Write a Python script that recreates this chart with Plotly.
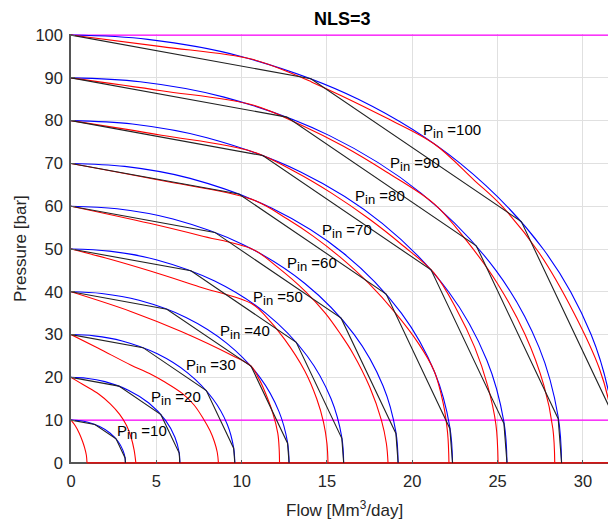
import plotly.graph_objects as go

# ---------------- data ----------------
p_in = [10, 20, 30, 40, 50, 60, 70, 80, 90, 100]

# blue curves: flow [Mm3/day] and pressure [bar]
blue_flow = [
    [0, 0.45, 1.0, 1.68, 2.28, 2.76, 3.04, 3.17, 3.19],
    [0, 0.9, 1.99, 3.36, 4.56, 5.53, 6.09, 6.34, 6.38],
    [0, 1.35, 3.0, 5.06, 6.85, 8.31, 9.16, 9.53, 9.6],
    [0, 1.8, 3.99, 6.74, 9.12, 11.07, 12.19, 12.69, 12.78],
    [0, 2.25, 4.99, 8.42, 11.41, 13.84, 15.24, 15.87, 15.98],
    [0, 2.7, 5.98, 10.1, 13.69, 16.6, 18.29, 19.04, 19.17],
    [0, 3.15, 6.98, 11.78, 15.97, 19.36, 21.33, 22.2, 22.36],
    [0, 3.6, 7.97, 13.46, 18.24, 22.13, 24.37, 25.37, 25.55],
    [0, 4.05, 8.97, 15.15, 20.53, 24.9, 27.43, 28.55, 28.75],
    [0, 4.5, 9.97, 16.84, 22.81, 27.67, 30.48, 31.73, 31.95],
]
blue_pres = [
    [10, 9.9, 9.5, 8.5, 7, 5, 3, 1.2, 0],
    [20, 19.8, 19, 17, 14, 10, 6, 2.4, 0],
    [30, 29.7, 28.5, 25.5, 21, 15, 9, 3.6, 0],
    [40, 39.6, 38, 34, 28, 20, 12, 4.8, 0],
    [50, 49.5, 47.5, 42.5, 35, 25, 15, 6, 0],
    [60, 59.4, 57, 51, 42, 30, 18, 7.2, 0],
    [70, 69.3, 66.5, 59.5, 49, 35, 21, 8.4, 0],
    [80, 79.2, 76, 68, 56, 40, 24, 9.6, 0],
    [90, 89.1, 85.5, 76.5, 63, 45, 27, 10.8, 0],
    [100, 99, 95, 85, 70, 50, 30, 12, 0],
]

# red curves
red_flow = [
    [0, 0.25, 0.49, 0.68, 0.8, 0.9, 0.94],
    [0, 0.8, 1.62, 2.3, 2.84, 3.25, 3.52, 3.7, 3.8],
    [0, 1.6, 3.5, 4.6, 5.5, 6.5, 7.2, 7.73, 8.15, 8.4, 8.57, 8.64],
    [0, 3.5, 6.46, 9.39, 10.56, 10.97, 11.24, 11.83, 12.12, 12.2, 12.22],
    [0, 2.3, 4.6, 7.5, 10.6, 11.4, 12.5, 13.7, 14.4, 14.8, 15.0, 15.06],
    [0, 4.6, 7.6, 10.66, 12.03, 13.76, 14.9, 15.76, 16.52, 17.5, 18.19, 18.48, 18.58],
    [0, 5.3, 10.6, 12.68, 14.19, 15.74, 17.44, 19.02, 20.35, 21.27, 21.81, 22.07, 22.15],
    [0, 5.3, 10.6, 13.16, 15.29, 17.48, 19.39, 21.27, 22.58, 23.66, 24.42, 24.9, 25.03],
    [0, 5.3, 10.6, 13.48, 15.97, 18.49, 21.27, 23.17, 24.98, 26.61, 27.72, 28.24, 28.35],
    [0, 5.3, 10.56, 12.95, 14.12, 15.75, 18.29, 21.27, 23.65, 25.26, 27.45, 29.48, 30.97, 31.64, 31.95],
]
red_pres = [
    [10, 8.7, 6.9, 5.0, 3.5, 1.8, 0],
    [20, 18.1, 16.1, 13.8, 11.4, 8.8, 6.0, 3.0, 0],
    [30, 26.8, 22.9, 20.9, 18.9, 16.3, 13.6, 10.5, 7.5, 5.0, 2.5, 0],
    [40, 35.4, 30.7, 25.2, 22.6, 20.0, 17.8, 11.6, 6.9, 3.2, 0],
    [50, 47.6, 44.9, 41.2, 37.2, 34.3, 29.0, 21.5, 15.0, 9.5, 4.5, 0],
    [60, 56.0, 53.1, 49.9, 46, 40, 35, 30.3, 25.6, 17.8, 10, 4.6, 0],
    [70, 66.0, 61.6, 57, 53, 48.2, 42, 35, 28, 21.6, 14, 7, 0],
    [80, 76.6, 72.8, 68, 63, 57, 51, 44.4, 36, 27, 18, 9, 0],
    [90, 87.0, 83.7, 79, 74, 68, 60.6, 52, 42, 30, 18, 8, 0],
    [100, 97.3, 94.4, 91, 89, 86, 81, 74.6, 66, 60, 49, 35, 22, 12, 0],
]
red_floor_flow = [0.94, 31.47]
red_floor_pres = [0, 0]

# black piecewise-linear curves (NLS=3)
black_flow = [
    [0, 1.40, 2.64, 3.17, 3.19],
    [0, 2.81, 5.27, 6.34, 6.38],
    [0, 4.22, 7.93, 9.53, 9.6],
    [0, 5.62, 10.56, 12.69, 12.78],
    [0, 7.03, 13.2, 15.87, 15.98],
    [0, 8.43, 15.83, 19.04, 19.17],
    [0, 9.84, 18.47, 22.2, 22.36],
    [0, 11.24, 21.1, 25.37, 25.55],
    [0, 12.65, 23.75, 28.55, 28.75],
    [0, 14.06, 26.39, 31.73, 31.95],
]
black_pres = [
    [10, 8.98, 5.64, 1.15, 0],
    [20, 17.96, 11.28, 2.3, 0],
    [30, 26.94, 16.92, 3.45, 0],
    [40, 35.92, 22.56, 4.6, 0],
    [50, 44.9, 28.2, 5.75, 0],
    [60, 53.88, 33.84, 6.9, 0],
    [70, 62.86, 39.48, 8.05, 0],
    [80, 71.84, 45.12, 9.2, 0],
    [90, 80.82, 50.76, 10.35, 0],
    [100, 89.8, 56.4, 11.5, 0],
]

# magenta limit lines
limit_pres = [10, 100]
limit_flow = [0, 31.47]

# label positions (left edge flow, centre pressure)
label_flow = [2.59, 4.6, 6.65, 8.6, 10.56, 12.52, 14.57, 16.52, 18.58, 20.53]
label_pres = [7.3, 15.2, 22.7, 30.7, 38.5, 46.5, 54.2, 62.2, 69.9, 77.5]

x_ticks = [0, 5, 10, 15, 20, 25, 30]
y_ticks = [0, 10, 20, 30, 40, 50, 60, 70, 80, 90, 100]

# ---------------- figure ----------------
FONT = "Liberation Sans, Arial, sans-serif"
fig = go.Figure()

for lvl in limit_pres:
    fig.add_trace(go.Scatter(x=limit_flow, y=[lvl, lvl], mode="lines",
                             line=dict(color="#ff00ff", width=1.2),
                             showlegend=False, hoverinfo="skip"))

for i, p in enumerate(p_in):
    fig.add_trace(go.Scatter(x=blue_flow[i], y=blue_pres[i], mode="lines",
                             line=dict(color="#0000ff", width=1.1, shape="spline"),
                             showlegend=False, name=f"blue {p}"))
for i, p in enumerate(p_in):
    fig.add_trace(go.Scatter(x=red_flow[i], y=red_pres[i], mode="lines",
                             line=dict(color="#ff0000", width=1.1, shape="spline"),
                             showlegend=False, name=f"red {p}"))
fig.add_trace(go.Scatter(x=red_floor_flow, y=red_floor_pres, mode="lines",
                         line=dict(color="#ff0000", width=1.3),
                         showlegend=False, hoverinfo="skip"))
for i, p in enumerate(p_in):
    fig.add_trace(go.Scatter(x=black_flow[i], y=black_pres[i], mode="lines",
                             line=dict(color="#222222", width=1.1),
                             showlegend=False, name=f"black {p}"))

for i, p in enumerate(p_in):
    fig.add_annotation(x=label_flow[i], y=label_pres[i], xref="x", yref="y",
                       text=f'P<sub><span style="font-size:13px">in</span></sub> ={p}',
                       showarrow=False, xanchor="left", yanchor="middle",
                       font=dict(family=FONT, size=15, color="#000000"))

fig.add_annotation(x=0.5065, y=1, xref="paper", yref="paper", yshift=15,
                   text="<b>NLS=3</b>", showarrow=False,
                   xanchor="center", yanchor="middle",
                   font=dict(family=FONT, size=18, color="#000000"))
fig.add_annotation(x=0.5085, y=0, xref="paper", yref="paper", yshift=-45,
                   text="Flow [Mm<sup>3</sup>/day]", showarrow=False,
                   xanchor="center", yanchor="middle",
                   font=dict(family=FONT, size=17, color="#262626"))
fig.add_annotation(x=0, y=0.5, xref="paper", yref="paper", xshift=-51,
                   text="Pressure [bar]", showarrow=False, textangle=-90,
                   xanchor="center", yanchor="middle",
                   font=dict(family=FONT, size=17, color="#262626"))

fig.update_layout(
    width=608, height=521,
    margin=dict(l=71, r=0, t=34, b=57),
    paper_bgcolor="white", plot_bgcolor="white",
    font=dict(family=FONT, size=16, color="#262626"),
    xaxis=dict(range=[0, 31.47], tickvals=x_ticks, showgrid=True,
               gridcolor="#e0e0e0", gridwidth=1, zeroline=False,
               showline=False, ticks="inside", ticklen=4, tickcolor="#555555",
               tickfont=dict(size=16.5), ticklabelstandoff=5),
    yaxis=dict(range=[-0.25, 100.25], tickvals=y_ticks, showgrid=True,
               gridcolor="#e0e0e0", gridwidth=1, zeroline=True,
               zerolinecolor="#555555", zerolinewidth=1.5,
               showline=True, linecolor="#555555", linewidth=1.5,
               ticks="inside", ticklen=4, tickcolor="#555555",
               tickfont=dict(size=16.5), ticklabelstandoff=3),
)

fig.write_html("out.html",
               config={"displayModeBar": False},
               post_script="document.body.style.margin='0';"
                           "document.body.style.overflow='hidden';")
